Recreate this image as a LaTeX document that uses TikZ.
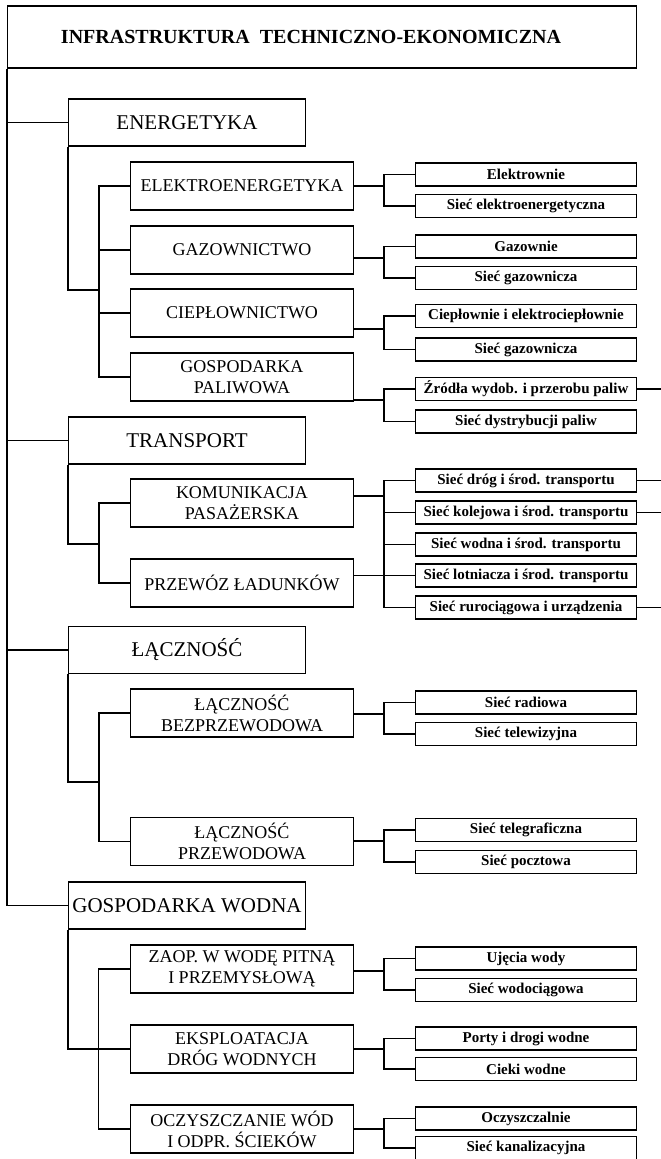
\documentclass[tikz,border=0pt]{standalone}
\usepackage{fontspec}
\setmainfont{Liberation Serif}
\usepackage{tikz}
\tikzstyle{link} = [line width=1.2pt]
\tikzstyle{titlebox} = [draw, line width=1.2pt, minimum width=629, minimum height=62, inner sep=0, font=\bfseries\fontsize{20}{24}\selectfont]
\tikzstyle{mainbox} = [draw, line width=1.2pt, minimum width=237, minimum height=47, inner sep=0, font=\fontsize{21}{25}\selectfont]
\tikzstyle{subbox} = [draw, line width=1.2pt, minimum width=223, minimum height=48, inner sep=0, align=center, font=\fontsize{18}{21}\selectfont]
\tikzstyle{leafbox} = [draw, line width=1.2pt, minimum width=221, minimum height=23, inner sep=0, font=\bfseries\fontsize{15}{18}\selectfont]

\begin{document}
\begin{tikzpicture}[x=1pt, y=-1pt]
            \useasboundingbox (0,0) rectangle (661,1159);

            % Create the title and the four main branches
            \node[titlebox] (0) at (322, 37) {INFRASTRUKTURA~ TECHNICZNO-EKONOMICZNA\hspace*{22pt}};
            \node[mainbox] (1) at (187, 122.5) {ENERGETYKA};
            \node[mainbox] (2) at (187, 440.5) {TRANSPORT};
            \node[mainbox] (3) at (187, 650) {ŁĄCZNOŚĆ};
            \node[mainbox] (4) at (187, 905.5) {GOSPODARKA WODNA};

            % Create the second level
            \node[subbox] (11) at (242, 186) {ELEKTROENERGETYKA};
            \node[subbox] (12) at (242, 250) {GAZOWNICTWO};
            \node[subbox] (13) at (242, 313) {CIEPŁOWNICTWO};
            \node[subbox] (14) at (242, 377) {GOSPODARKA\\PALIWOWA};
            \node[subbox] (21) at (242, 503) {KOMUNIKACJA\\PASAŻERSKA};
            \node[subbox] (22) at (242, 583) {PRZEWÓZ ŁADUNKÓW};
            \node[subbox] (31) at (242, 713) {ŁĄCZNOŚĆ\\BEZPRZEWODOWA};
            \node[subbox] (32) at (242, 841.5) {ŁĄCZNOŚĆ\\PRZEWODOWA};
            \node[subbox] (41) at (242, 969) {ZAOP. W WODĘ PITNĄ\\I PRZEMYSŁOWĄ};
            \node[subbox] (42) at (242, 1049) {EKSPLOATACJA\\DRÓG WODNYCH};
            \node[subbox] (43) at (242, 1129) {OCZYSZCZANIE WÓD\\I ODPR. ŚCIEKÓW};

            % Create the leaves
            \node[leafbox] (111) at (526, 174.5) {Elektrownie};
            \node[leafbox] (112) at (526, 206) {Sieć elektroenergetyczna};
            \node[leafbox] (121) at (526, 246.5) {Gazownie};
            \node[leafbox] (122) at (526, 278) {Sieć gazownicza};
            \node[leafbox] (131) at (526, 316) {Ciepłownie i elektrociepłownie};
            \node[leafbox] (132) at (526, 349.5) {Sieć gazownicza};
            \node[leafbox] (141) at (526, 389) {Źródła wydob. i przerobu paliw};
            \node[leafbox] (142) at (526, 421.5) {Sieć dystrybucji paliw};
            \node[leafbox] (211) at (526, 480.5) {Sieć dróg i środ. transportu};
            \node[leafbox] (212) at (526, 512.5) {Sieć kolejowa i środ. transportu};
            \node[leafbox] (213) at (526, 544.5) {Sieć wodna i środ. transportu};
            \node[leafbox] (214) at (526, 575.5) {Sieć lotniacza i środ. transportu};
            \node[leafbox] (215) at (526, 607.5) {Sieć rurociągowa i urządzenia};
            \node[leafbox] (311) at (526, 702.5) {Sieć radiowa};
            \node[leafbox] (312) at (526, 734) {Sieć telewizyjna};
            \node[leafbox] (321) at (526, 830) {Sieć telegraficzna};
            \node[leafbox] (322) at (526, 862) {Sieć pocztowa};
            \node[leafbox] (411) at (526, 958.5) {Ujęcia wody};
            \node[leafbox] (412) at (526, 990) {Sieć wodociągowa};
            \node[leafbox] (421) at (526, 1038.5) {Porty i drogi wodne};
            \node[leafbox] (422) at (526, 1069) {Cieki wodne};
            \node[leafbox] (431) at (526, 1118.5) {Oczyszczalnie};
            \node[leafbox] (432) at (526, 1148) {Sieć kanalizacyjna};

            % Junctions and free ends
            \coordinate (j1) at (99, 290);
            \coordinate (j2) at (99, 544);
            \coordinate (j3) at (99, 782);
            \coordinate (b11) at (384, 186);
            \coordinate (b12) at (384, 258);
            \coordinate (b13) at (384, 329);
            \coordinate (b14) at (384, 400);
            \coordinate (b21) at (384, 496);
            \coordinate (b31) at (384, 714);
            \coordinate (b32) at (384, 841);
            \coordinate (b41) at (384, 971);
            \coordinate (b42) at (384, 1049);
            \coordinate (b43) at (384, 1129);
            \coordinate (r1) at (661, 389);
            \coordinate (r2) at (661, 480.5);
            \coordinate (r3) at (661, 512.5);
            \coordinate (r4) at (661, 607.5);

            % Draw the trunk
            \draw[link] (0.south west) |- (1.west);
            \draw[link] (0.south west) |- (2.west);
            \draw[link] (0.south west) |- (3.west);
            \draw[link] (0.south west) |- (4.west);

            % Draw main branches to the second level
            \draw[link] (1.south west) |- (j1);
            \draw[link] (j1) |- (11.west);
            \draw[link] (j1) |- (12.west);
            \draw[link] (j1) |- (13.west);
            \draw[link] (j1) |- (14.west);
            \draw[link] (2.south west) |- (j2);
            \draw[link] (j2) |- (21.west);
            \draw[link] (j2) |- (22.west);
            \draw[link] (3.south west) |- (j3);
            \draw[link] (j3) |- (31.west);
            \draw[link] (j3) |- (32.west);
            \draw[link] (4.south west) |- (42.west);
            \draw[link] (4.south west |- 42.west) -- ++(30.5,0) |- (41.west);
            \draw[link] (4.south west |- 42.west) -- ++(30.5,0) |- (43.west);

            % Draw the second level to the leaves
            \draw[link] (11.east |- b11) -- (b11) |- (111.west);
            \draw[link] (b11) |- (112.west);
            \draw[link] (12.east |- b12) -- (b12) |- (121.west);
            \draw[link] (b12) |- (122.west);
            \draw[link] (13.east |- b13) -- (b13) |- (131.west);
            \draw[link] (b13) |- (132.west);
            \draw[link] (14.east |- b14) -- (b14) |- (141.west);
            \draw[link] (b14) |- (142.west);
            \draw[link] (21.east |- b21) -- (b21) |- (211.west);
            \draw[link] (b21) |- (212.west);
            \draw[link] (b21) |- (213.west);
            \draw[link] (b21) |- (214.west);
            \draw[link] (b21) |- (215.west);
            \draw[link] (22.east |- 214.west) -- (214.west);
            \draw[link] (31.east |- b31) -- (b31) |- (311.west);
            \draw[link] (b31) |- (312.west);
            \draw[link] (32.east |- b32) -- (b32) |- (321.west);
            \draw[link] (b32) |- (322.west);
            \draw[link] (41.east |- b41) -- (b41) |- (411.west);
            \draw[link] (b41) |- (412.west);
            \draw[link] (42.east |- b42) -- (b42) |- (421.west);
            \draw[link] (b42) |- (422.west);
            \draw[link] (43.east |- b43) -- (b43) |- (431.west);
            \draw[link] (b43) |- (432.west);

            % Lines running off the right edge
            \draw[link] (141.east) -- (r1);
            \draw[link] (211.east) -- (r2);
            \draw[link] (212.east) -- (r3);
            \draw[link] (215.east) -- (r4);
        \end{tikzpicture}
\end{document}
